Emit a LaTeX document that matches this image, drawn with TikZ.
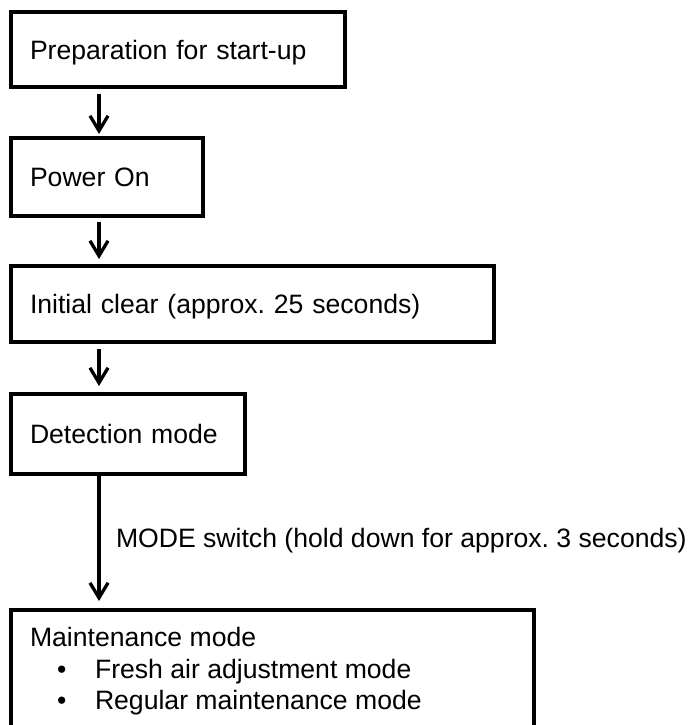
\documentclass[tikz,border=0pt]{standalone}
\usepackage{fontspec}
\setmainfont{Liberation Sans}
\usetikzlibrary{arrows.meta}
\frenchspacing

\begin{document}
\begin{tikzpicture}[x=1pt, y=-1pt,
    every node/.style={font=\fontsize{26.6pt}{32pt}\selectfont, outer sep=0pt},
    stepbox/.style={draw, line width=3.2pt, rectangle, anchor=north west,
        inner xsep=19pt, inner ysep=0pt, align=left,
        text height=20pt, text depth=0.9pt},
    plaintext/.style={inner sep=0pt, anchor=base west},
    flow/.style={line width=3.3pt,
        -{Straight Barb[length=15pt, width=18pt, line width=3.3pt]}}
  ]
  \useasboundingbox (0,0) rectangle (692,725);
  \clip (0,0) rectangle (692,725);

  % process steps
  \node[stepbox, minimum width=334pt, text width=296pt, minimum height=75pt]
    (prep) at (11,12) {Preparation for start-up};
  \node[stepbox, minimum width=192pt, text width=154pt, minimum height=78pt]
    (power) at (11,138) {Power On};
  \node[stepbox, minimum width=483pt, text width=445pt, minimum height=76pt]
    (clear) at (11,266) {Initial clear (approx. 25 seconds)};
  \node[stepbox, minimum width=234pt, text width=196pt, minimum height=80pt]
    (detect) at (11,394) {Detection mode};
  \node[stepbox, minimum width=523pt, text width=485pt, minimum height=150pt]
    (maint) at (11,610) {};

  % contents of the maintenance box
  \node[plaintext] (mtitle) at (30,646) {Maintenance mode};
  \node[plaintext] (dot1) at (57,678) {•};
  \node[plaintext] (item1) at (95,678) {Fresh air adjustment mode};
  \node[plaintext] (dot2) at (57,709) {•};
  \node[plaintext] (item2) at (95,709) {Regular maintenance mode};

  % connectors
  \draw[flow, shorten <=7pt, shorten >=4pt]
    ([xshift=88pt]prep.south west) -- ([xshift=88pt]power.north west);
  \draw[flow, shorten <=6pt, shorten >=7pt]
    ([xshift=88pt]power.south west) -- ([xshift=88pt]clear.north west);
  \draw[flow, shorten <=7pt, shorten >=8pt]
    ([xshift=88pt]clear.south west) -- ([xshift=88pt]detect.north west);
  \draw[flow, shorten >=9pt]
    ([xshift=88pt]detect.south west) -- ([xshift=88pt]maint.north west);

  \node[plaintext] (hold) at (116,547)
    {MODE switch (hold down for approx. 3 seconds)};
\end{tikzpicture}
\end{document}
